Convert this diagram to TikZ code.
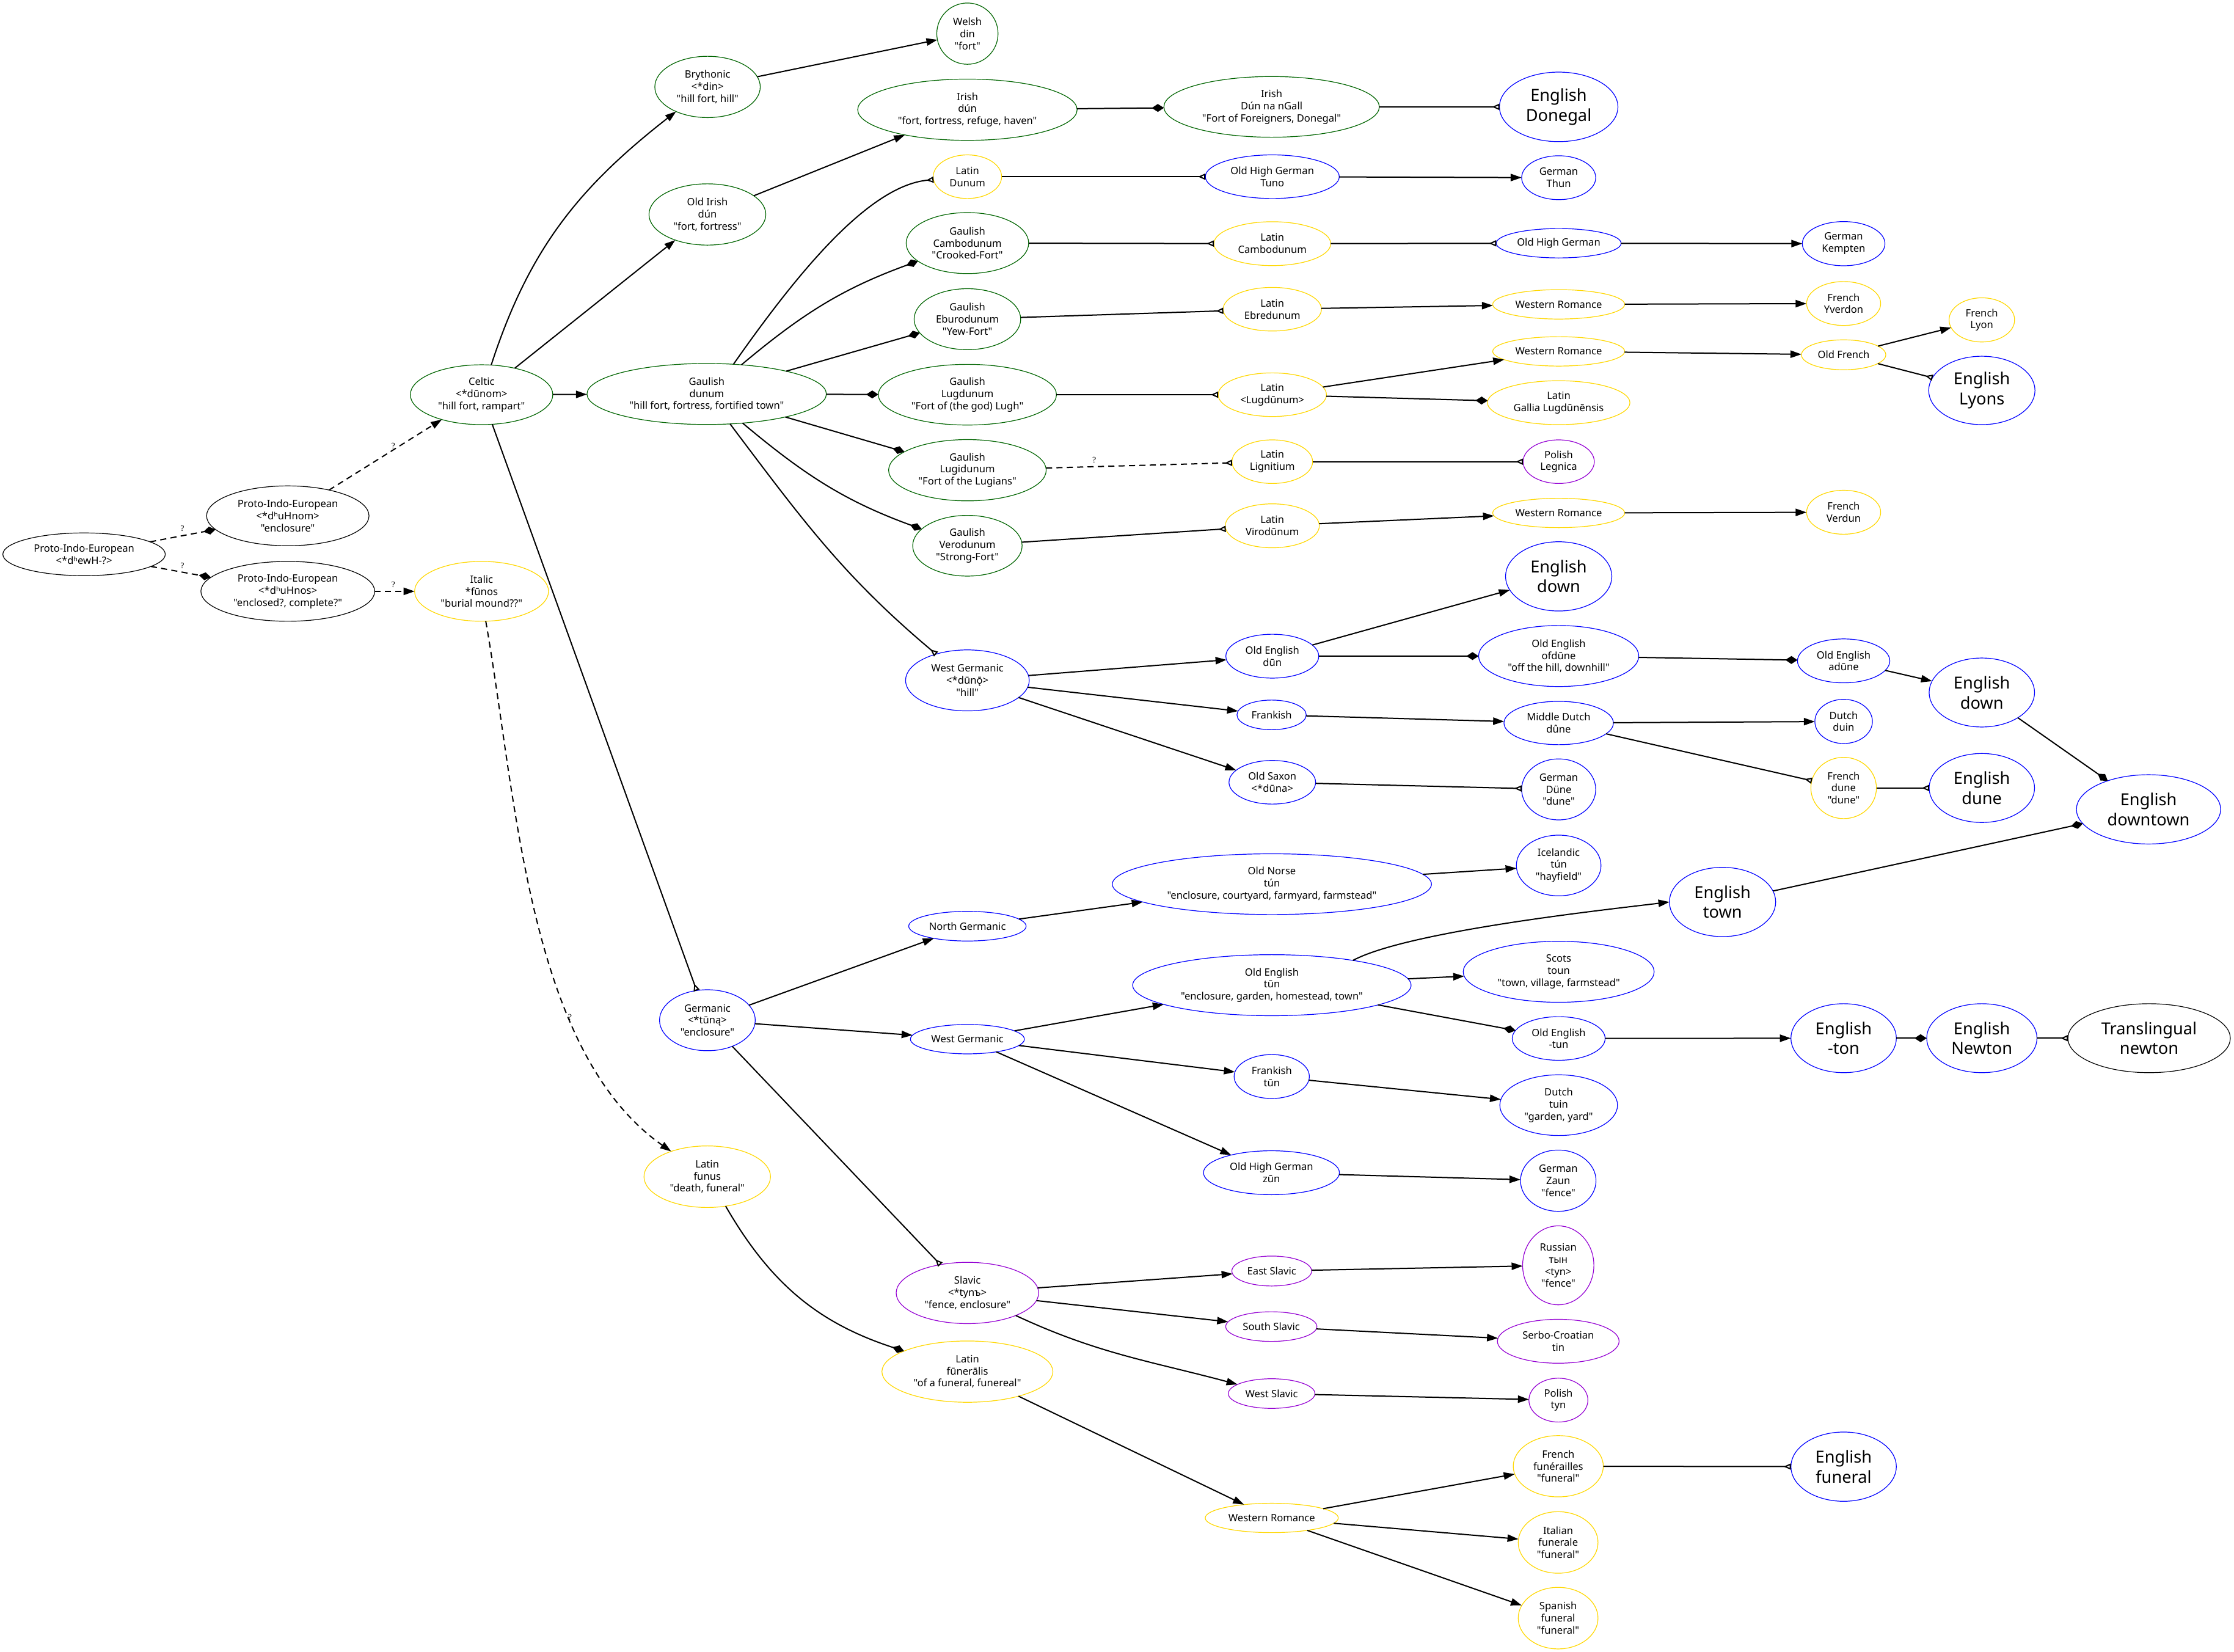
\documentclass[tikz,border=0pt]{standalone}
\usepackage{fontspec}
\newfontfamily\nsf{Noto Sans}
\newfontfamily\qfont{Liberation Serif}
\usetikzlibrary{shapes.geometric,arrows.meta}
\definecolor{cgreen}{RGB}{0,100,0}
\definecolor{cgold}{RGB}{255,215,0}
\definecolor{cblue}{RGB}{0,0,255}
\definecolor{cviolet}{RGB}{148,0,211}
\begin{document}
\begin{tikzpicture}[x=1.166pt,y=1.166pt,
  nd/.style={ellipse,draw,line width=0.6pt,inner xsep=-15pt,inner ysep=-5pt,outer sep=0pt,align=center,font=\nsf\fontsize{8.3}{9.9}\selectfont},
  bg/.style={nd,font=\nsf\fontsize{13.6}{16.3}\selectfont},
  sz/.style 2 args={minimum width={#1*2.332pt},minimum height={#2*2.332pt}},
  cG/.style={draw=cgreen},cY/.style={draw=cgold},cB/.style={draw=cblue},cP/.style={draw=cviolet},cK/.style={draw=black},
  ar/.style={line width=1pt,-{Triangle[length=9pt,width=6pt]}},
  ard/.style={line width=1pt,-{Diamond[length=10pt,width=6.5pt]}},
  aro/.style={line width=1pt,-{Triangle[open,reversed,length=6pt,width=5pt]}},
  dsh/.style={dash pattern=on 5pt off 3.5pt},
  qm/.style={font=\qfont\fontsize{7}{8}\selectfont,inner sep=0pt}]
\useasboundingbox (0,0) rectangle (1568,-1159);
% ---- nodes ----
\node[nd,cK,sz={57}{15}] (pie0) at (59,-389) {Proto-Indo-European\\<*dʰewH-?>};
\node[nd,cK,sz={57}{21}] (pie1) at (202,-362) {Proto-Indo-European\\<*dʰuHnom>\\"enclosure"};
\node[nd,cK,sz={61}{21}] (pie2) at (202,-415) {Proto-Indo-European\\<*dʰuHnos>\\"enclosed?, complete?"};
\node[nd,cY,sz={47}{21}] (italic) at (338,-415) {Italic\\*fūnos\\"burial mound??"};
\node[nd,cG,sz={50}{21}] (celtic) at (338,-277) {Celtic\\<*dūnom>\\"hill fort, rampart"};
\node[nd,cG,sz={37}{21.5}] (brythonic) at (496.6,-61) {Brythonic\\<*din>\\"hill fort, hill"};
\node[nd,cG,sz={21.5}{21.5}] (welsh) at (679,-23.6) {Welsh\\din\\"fort"};
\node[nd,cG,sz={41}{21.5}] (oldirish) at (496.5,-150.5) {Old Irish\\dún\\"fort, fortress"};
\node[nd,cG,sz={77}{21.5}] (irish) at (679,-77) {Irish\\dún\\"fort, fortress, refuge, haven"};
\node[nd,cG,sz={75.6}{21.3}] (irish2) at (892.5,-75) {Irish\\Dún na nGall\\"Fort of Foreigners, Donegal"};
\node[bg,cB,sz={41.6}{24.4}] (donegal) at (1094,-75) {English\\Donegal};
\node[nd,cG,sz={84}{21.4}] (gaulish) at (496,-276.5) {Gaulish\\dunum\\"hill fort, fortress, fortified town"};
\node[nd,cY,sz={24}{15.3}] (latdunum) at (679,-124) {Latin\\Dunum};
\node[nd,cB,sz={47}{15.3}] (tuno) at (893,-124) {Old High German\\Tuno};
\node[nd,cB,sz={26}{15.4}] (thun) at (1094,-124.7) {German\\Thun};
\node[nd,cG,sz={43}{21.4}] (gcambo) at (679,-170.6) {Gaulish\\Cambodunum\\"Crooked-Fort"};
\node[nd,cY,sz={41}{15.4}] (latcambo) at (893,-171) {Latin\\Cambodunum};
\node[nd,cB,sz={43.8}{10.3}] (ohg2) at (1094,-170.7) {Old High German};
\node[nd,cB,sz={29}{15.5}] (kempten) at (1294,-171) {German\\Kempten};
\node[nd,cG,sz={37.4}{21.4}] (geburo) at (679,-224) {Gaulish\\Eburodunum\\"Yew-Fort"};
\node[nd,cY,sz={34.5}{15.3}] (latebre) at (893,-217) {Latin\\Ebredunum};
\node[nd,cY,sz={46.3}{10.3}] (wr1) at (1094,-213.6) {Western Romance};
\node[nd,cY,sz={26}{15.4}] (yverdon) at (1294,-213) {French\\Yverdon};
\node[nd,cG,sz={62.5}{21.3}] (glugd) at (679,-277) {Gaulish\\Lugdunum\\"Fort of (the god) Lugh"};
\node[nd,cY,sz={38}{15.3}] (latlugd) at (893,-277) {Latin\\<Lugdūnum>};
\node[nd,cY,sz={46.3}{10.3}] (wr2) at (1094,-246.6) {Western Romance};
\node[nd,cY,sz={50}{15.4}] (gallia) at (1094,-282.6) {Latin\\Gallia Lugdūnēnsis};
\node[nd,cY,sz={29.6}{10.5}] (oldfrench) at (1294,-249) {Old French};
\node[nd,cY,sz={23}{15.5}] (lyon) at (1391,-224.5) {French\\Lyon};
\node[bg,cB,sz={37.3}{24}] (lyons) at (1391,-274) {English\\Lyons};
\node[nd,cG,sz={55.3}{21.5}] (glugid) at (679,-330) {Gaulish\\Lugidunum\\"Fort of the Lugians"};
\node[nd,cY,sz={28.3}{15.3}] (lignit) at (893,-324) {Latin\\Lignitium};
\node[nd,cP,sz={25}{15.3}] (legnica) at (1094,-324) {Polish\\Legnica};
\node[nd,cG,sz={38.4}{21.3}] (gverod) at (679,-383) {Gaulish\\Verodunum\\"Strong-Fort"};
\node[nd,cY,sz={33}{15.4}] (virod) at (893,-369) {Latin\\Virodūnum};
\node[nd,cY,sz={46.3}{10.3}] (wr3) at (1094,-360) {Western Romance};
\node[nd,cY,sz={26}{15.4}] (verdun) at (1294,-359.5) {French\\Verdun};
\node[nd,cB,sz={43.4}{21.4}] (wgerm1) at (679,-477.5) {West Germanic\\<*dūnǭ>\\"hill"};
\node[nd,cB,sz={32.6}{15.4}] (oedun) at (893,-460.5) {Old English\\dūn};
\node[bg,cB,sz={37.3}{24.3}] (down1) at (1094,-404.5) {English\\down};
\node[nd,cB,sz={56.2}{21.4}] (ofdune) at (1094,-460.4) {Old English\\ofdūne\\"off the hill, downhill"};
\node[nd,cB,sz={32.4}{15.4}] (adune) at (1294,-463.8) {Old English\\adūne};
\node[bg,cB,sz={37}{24.2}] (down2) at (1391,-486) {English\\down};
\node[nd,cB,sz={24.3}{10.4}] (frank1) at (892.5,-501.7) {Frankish};
\node[nd,cB,sz={38.4}{15.2}] (mdutch) at (1094,-507.4) {Middle Dutch\\dûne};
\node[nd,cB,sz={20.2}{15.5}] (duin) at (1294,-506.3) {Dutch\\duin};
\node[nd,cY,sz={23}{21.5}] (frdune) at (1294,-553) {French\\dune\\"dune"};
\node[bg,cB,sz={37}{24.2}] (engdune) at (1391,-553) {English\\dune};
\node[bg,cB,sz={50.6}{24.3}] (downtown) at (1508,-568) {English\\downtown};
\node[nd,cB,sz={30.4}{15.3}] (osaxon) at (893,-549) {Old Saxon\\<*dūna>};
\node[nd,cB,sz={26}{21.4}] (gdune) at (1094,-554) {German\\Düne\\"dune"};
\node[nd,cB,sz={33.6}{21.4}] (germanic) at (496.5,-716) {Germanic\\<*tūną>\\"enclosure"};
\node[nd,cB,sz={41.2}{10.4}] (northg) at (679,-650) {North Germanic};
\node[nd,cB,sz={112}{21.3}] (onorse) at (892.7,-620.5) {Old Norse\\tún\\"enclosure, courtyard, farmyard, farmstead"};
\node[nd,cB,sz={29.7}{21.3}] (iceland) at (1094,-607.4) {Icelandic\\tún\\"hayfield"};
\node[bg,cB,sz={37.3}{24.3}] (town) at (1209,-633) {English\\town};
\node[nd,cB,sz={40}{10.3}] (westg2) at (679,-729.3) {West Germanic};
\node[nd,cB,sz={97.7}{21.4}] (oetun) at (892.7,-691.4) {Old English\\tūn\\"enclosure, garden, homestead, town"};
\node[nd,cB,sz={67}{21.4}] (scots) at (1094,-682) {Scots\\toun\\"town, village, farmstead"};
\node[nd,cB,sz={32.6}{15.3}] (oetun2) at (1094,-728.8) {Old English\\-tun};
\node[bg,cB,sz={37}{24.2}] (ton) at (1294,-728.6) {English\\-ton};
\node[bg,cB,sz={38.7}{24.2}] (newton) at (1391,-728.6) {English\\Newton};
\node[bg,cK,sz={57}{24.2}] (transl) at (1508.4,-728.6) {Translingual\\newton};
\node[nd,cB,sz={26.4}{15.4}] (frank2) at (892.6,-755.5) {Frankish\\tūn};
\node[nd,cB,sz={41.3}{21.3}] (tuin) at (1094,-775.6) {Dutch\\tuin\\"garden, yard"};
\node[nd,cB,sz={47.7}{15.4}] (ohgzun) at (892.4,-823) {Old High German\\zūn};
\node[nd,cB,sz={26.5}{21.5}] (zaun) at (1093.7,-828.6) {German\\Zaun\\"fence"};
\node[nd,cP,sz={50}{21.5}] (slavic) at (679,-907.4) {Slavic\\<*tynъ>\\"fence, enclosure"};
\node[nd,cP,sz={28}{10.5}] (eslav) at (892.6,-892) {East Slavic};
\node[nd,cP,sz={32}{10.4}] (sslav) at (892.3,-931) {South Slavic};
\node[nd,cP,sz={30.4}{10.4}] (wslav) at (892.5,-978) {West Slavic};
\node[nd,cP,sz={25}{27.7}] (russian) at (1093.7,-888) {Russian\\тын\\<tyn>\\"fence"};
\node[nd,cP,sz={42.7}{15.4}] (serbo) at (1093.7,-941.3) {Serbo-Croatian\\tin};
\node[nd,cP,sz={20.7}{15.4}] (poltyn) at (1093.8,-982.6) {Polish\\tyn};
\node[nd,cY,sz={44.4}{21.6}] (latfunus) at (496.4,-825.8) {Latin\\funus\\"death, funeral"};
\node[nd,cY,sz={60}{21.5}] (latfuner) at (679,-962.6) {Latin\\fūnerālis\\"of a funeral, funereal"};
\node[nd,cY,sz={46.7}{10.3}] (wr4) at (892.6,-1065.3) {Western Romance};
\node[nd,cY,sz={31.6}{21.5}] (frfun) at (1093.7,-1029) {French\\funérailles\\"funeral"};
\node[nd,cY,sz={28}{21.6}] (itfun) at (1093.6,-1082.5) {Italian\\funerale\\"funeral"};
\node[nd,cY,sz={28}{21.6}] (spfun) at (1093.6,-1135.6) {Spanish\\funeral\\"funeral"};
\node[bg,cB,sz={37}{24.3}] (engfun) at (1294,-1029.3) {English\\funeral};
% ---- question marks ----
\node[qm] (q1) at (128,-371) {?};
\node[qm] (q2) at (128,-397) {?};
\node[qm] (q3) at (276,-313) {?};
\node[qm] (q4) at (276,-410.5) {?};
\node[qm] (q5) at (768,-323) {?};
\node[qm] (q6) at (400,-714) {?};
% ---- edges ----
\draw[ard,dsh] (pie0) -- (pie1);
\draw[ard,dsh] (pie0) -- (pie2);
\draw[ar,dsh] (pie1) -- (celtic);
\draw[ar,dsh] (pie2) -- (italic);
\draw[ar,dsh] (italic.-82) to[out=-80,in=145,looseness=0.8] (latfunus.145);
\draw[ar] (celtic) -- (gaulish);
\draw[ar] (celtic.72) to[out=72,in=218] (brythonic.218);
\draw[ar] (celtic) -- (oldirish);
\draw[aro] (celtic) -- (germanic);
\draw[ar] (brythonic) -- (welsh);
\draw[ar] (oldirish) -- (irish);
\draw[ard] (irish) -- (irish2);
\draw[aro] (irish2) -- (donegal);
\draw[aro] (gaulish.48) .. controls +(55:80) and +(185:45) .. (latdunum.185);
\draw[ard] (gaulish.40) to[out=40,in=200] (gcambo.200);
\draw[ard] (gaulish) -- (geburo);
\draw[ard] (gaulish) -- (glugd);
\draw[ard] (gaulish) -- (glugid);
\draw[ard] (gaulish.-39) to[out=-40,in=160] (gverod.160);
\draw[aro] (gaulish.-52) to[out=-53,in=140] (wgerm1.140);
\draw[aro] (latdunum) -- (tuno);
\draw[ar] (tuno) -- (thun);
\draw[aro] (gcambo) -- (latcambo);
\draw[aro] (latcambo) -- (ohg2);
\draw[ar] (ohg2) -- (kempten);
\draw[aro] (geburo) -- (latebre);
\draw[ar] (latebre) -- (wr1);
\draw[ar] (wr1) -- (yverdon);
\draw[aro] (glugd) -- (latlugd);
\draw[ar] (latlugd) -- (wr2);
\draw[ard] (latlugd) -- (gallia);
\draw[ar] (wr2) -- (oldfrench);
\draw[ar] (oldfrench) -- (lyon);
\draw[aro] (oldfrench) -- (lyons);
\draw[aro,dsh] (glugid) -- (lignit);
\draw[aro] (lignit) -- (legnica);
\draw[aro] (gverod) -- (virod);
\draw[ar] (virod) -- (wr3);
\draw[ar] (wr3) -- (verdun);
\draw[ar] (wgerm1) -- (oedun);
\draw[ar] (wgerm1) -- (frank1);
\draw[ar] (wgerm1) -- (osaxon);
\draw[ar] (oedun) -- (down1);
\draw[ard] (oedun) -- (ofdune);
\draw[ard] (ofdune) -- (adune);
\draw[ar] (adune) -- (down2);
\draw[ard] (down2) -- (downtown);
\draw[ar] (frank1) -- (mdutch);
\draw[ar] (mdutch) -- (duin);
\draw[aro] (mdutch) -- (frdune);
\draw[aro] (frdune) -- (engdune);
\draw[aro] (osaxon) -- (gdune);
\draw[ar] (germanic) -- (northg);
\draw[ar] (germanic) -- (westg2);
\draw[aro] (germanic) -- (slavic);
\draw[ar] (northg) -- (onorse);
\draw[ar] (onorse) -- (iceland);
\draw[ar] (westg2) -- (oetun);
\draw[ar] (westg2) -- (frank2);
\draw[ar] (westg2) -- (ohgzun);
\draw[ar] (oetun.17) to[out=28,in=187,looseness=0.5] (town.west);
\draw[ar] (oetun) -- (scots);
\draw[ard] (oetun) -- (oetun2);
\draw[ard] (town) -- (downtown);
\draw[ar] (oetun2) -- (ton);
\draw[ard] (ton) -- (newton);
\draw[aro] (newton) -- (transl);
\draw[ar] (frank2) -- (tuin);
\draw[ar] (ohgzun) -- (zaun);
\draw[ar] (slavic) -- (eslav);
\draw[ar] (slavic) -- (sslav);
\draw[ar] (slavic.-25) to[out=-25,in=165] (wslav.165);
\draw[ar] (eslav) -- (russian);
\draw[ar] (sslav) -- (serbo);
\draw[ar] (wslav) -- (poltyn);
\draw[ard] (latfunus.-58) to[out=-60,in=162] (latfuner.162);
\draw[ar] (latfuner) -- (wr4);
\draw[ar] (wr4) -- (frfun);
\draw[ar] (wr4) -- (itfun);
\draw[ar] (wr4) -- (spfun);
\draw[aro] (frfun) -- (engfun);
\end{tikzpicture}
\end{document}
